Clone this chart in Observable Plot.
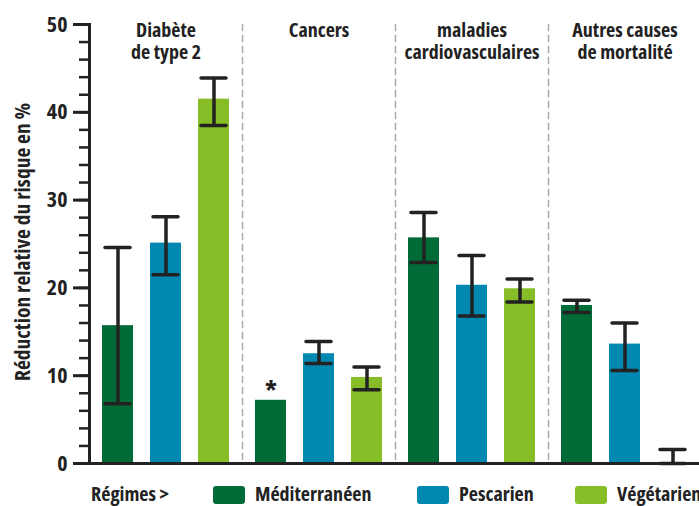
<!DOCTYPE html>
<html>
<head>
<meta charset="utf-8">
<script src="https://cdn.jsdelivr.net/npm/d3@7"></script>
<script src="https://cdn.jsdelivr.net/npm/@observablehq/plot@0.6"></script>
<style>
  body { margin: 0; background: #fff; }
  #wrap { position: relative; width: 699px; height: 506px; overflow: hidden; font-family: "Open Sans", "DejaVu Sans Condensed", sans-serif; font-stretch: 80%; color: #222; }
  #wrap svg { display: block; font-family: "Open Sans", "DejaVu Sans Condensed", sans-serif; font-stretch: 80%; overflow: visible; }
  #wrap svg text { font-stretch: 80%; }
  #legend { position: relative; width: 699px; height: 31px; font-weight: bold; font-size: 20px; font-stretch: 80%; }
  #legend .t { position: absolute; top: 7px; line-height: 23px; white-space: nowrap; }
  #legend .sw { position: absolute; top: 11px; width: 32px; height: 18px; border-radius: 3px; }
</style>
</head>
<body>
<div id="wrap"><div id="chart"></div><div id="legend"></div></div>
<script>
const groups = ["Diabète\nde type 2", "Cancers", "maladies\ncardiovasculaires", "Autres causes\nde mortalité"];
const diets = ["Méditerranéen", "Pescarien", "Végétarien"];
const dietColors = ["#006b37", "#0088b0", "#87bd26"];
const legendTitle = "Régimes >";
const yTitle = "Réduction relative du risque en %";
const yMajorTicks = [0, 10, 20, 30, 40, 50];
const yMinorTicks = [0, 2, 4, 6, 8, 10, 12, 14, 16, 18, 20, 22, 24, 26, 28, 30, 32, 34, 36, 38, 40, 42, 44, 46, 48, 50];

const mediterraneen = [15.7, 7.2, 25.7, 18.0];
const mediterraneenLow = [6.8, null, 22.9, 17.2];
const mediterraneenHigh = [24.6, null, 28.6, 18.6];
const mediterraneenNote = ["", "*", "", ""];
const pescarien = [25.1, 12.5, 20.3, 13.6];
const pescarienLow = [21.5, 11.4, 16.8, 10.6];
const pescarienHigh = [28.1, 13.9, 23.7, 16.0];
const vegetarien = [41.5, 9.8, 19.9, 0];
const vegetarienLow = [38.5, 8.4, 18.4, 0];
const vegetarienHigh = [43.9, 11.0, 21.0, 1.6];

const series = [
  [mediterraneen, mediterraneenLow, mediterraneenHigh, mediterraneenNote],
  [pescarien, pescarienLow, pescarienHigh, null],
  [vegetarien, vegetarienLow, vegetarienHigh, null]
];
const data = groups.flatMap((g, i) => diets.map((d, j) => ({
  group: g, diet: d,
  value: series[j][0][i], lo: series[j][1][i], hi: series[j][2][i],
  note: series[j][3] ? series[j][3][i] : ""
})));
const errs = data.filter(d => d.hi != null);

const ink = "#222";
const chart = Plot.plot({
  width: 699, height: 475,
  marginLeft: 88, marginRight: -2, marginTop: 24, marginBottom: 12,
  fx: {domain: groups, padding: 0, axis: null},
  x: {domain: diets, paddingInner: 0.354, paddingOuter: 0.26, axis: null},
  y: {domain: [0, 50], axis: null},
  color: {domain: diets, range: dietColors},
  marks: [
    Plot.frame({anchor: "left", stroke: "#aaa", strokeWidth: 1.5, strokeDasharray: "6,5"}),
    Plot.barY(data, {fx: "group", x: "diet", y: "value", fill: "diet"}),
    Plot.ruleX(errs, {fx: "group", x: "diet", y1: "lo", y2: "hi", stroke: ink, strokeWidth: 3.5}),
    Plot.tickY(errs, {fx: "group", x: "diet", y: "lo", stroke: ink, strokeWidth: 3.5, strokeLinecap: "round", insetLeft: 3, insetRight: 3}),
    Plot.tickY(errs, {fx: "group", x: "diet", y: "hi", stroke: ink, strokeWidth: 3.5, strokeLinecap: "round", insetLeft: 3, insetRight: 3}),
    Plot.text(data.filter(d => d.note), {fx: "group", x: "diet", y: "value", text: "note", dy: -9, fontSize: 27, fontWeight: "bold", fill: ink}),
    Plot.text(groups, {fx: d => d, text: d => d, frameAnchor: "top", lineAnchor: "top", dy: -3, fontSize: 20, fontWeight: "bold", lineHeight: 1.1, fill: ink}),
    Plot.ruleY([0], {stroke: ink, strokeWidth: 3, insetLeft: -7}),
    Plot.frame({anchor: "left", facetAnchor: "left", stroke: ink, strokeWidth: 3}),
    Plot.axisY({ticks: yMinorTicks, tickSize: 10, text: null, stroke: ink, strokeWidth: 2.5, label: null}),
    Plot.axisY({ticks: yMajorTicks, tickSize: 16, tickPadding: 6, stroke: ink, strokeWidth: 3, fontSize: 22, fontWeight: "bold", fill: ink, label: null}),
    Plot.text([yTitle], {fx: () => groups[0], text: d => d, frameAnchor: "left", textAnchor: "middle", lineAnchor: "middle", rotate: -90, dx: -66, dy: -2, fontSize: 21.5, fontWeight: "bold", fill: ink})
  ]
});
document.getElementById("chart").append(chart);

const legend = document.getElementById("legend");
const items = [
  {cls: "t", left: 91, text: legendTitle},
  {cls: "sw", left: 213, color: dietColors[0]},
  {cls: "t", left: 255, text: diets[0]},
  {cls: "sw", left: 417, color: dietColors[1]},
  {cls: "t", left: 459, text: diets[1]},
  {cls: "sw", left: 575, color: dietColors[2]},
  {cls: "t", left: 617, text: diets[2]}
];
for (const it of items) {
  const el = document.createElement("div");
  el.className = it.cls;
  el.style.left = it.left + "px";
  if (it.text) el.textContent = it.text;
  if (it.color) el.style.background = it.color;
  legend.append(el);
}
</script>
</body>
</html>
